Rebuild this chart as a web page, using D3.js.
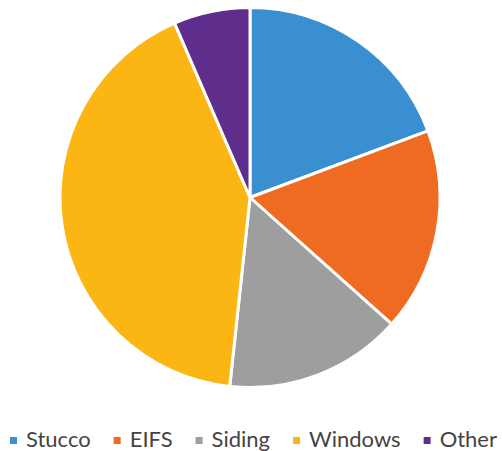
<!DOCTYPE html>
<html>
<head>
<meta charset="utf-8">
<script src="https://cdn.jsdelivr.net/npm/d3@7"></script>
<style>
  body { margin: 0; background: #fff; }
  text { font-family: Lato, "Open Sans", sans-serif; }
</style>
</head>
<body>
<svg width="502" height="451"></svg>
<script>
var categories = ["Stucco", "EIFS", "Siding", "Windows", "Other"];
var values = [19.3, 17.3, 15.1, 41.8, 6.5];
var colors = ["#3a8fd0", "#f06b22", "#9e9e9e", "#fbb614", "#5f2d8c"];

var svg = d3.select("svg"),
    width = +svg.attr("width"),
    height = +svg.attr("height");

var radius = 190,
    cx = 250,
    cy = 197.5;

var color = d3.scaleOrdinal().domain(categories).range(colors);

var data = categories.map(function(c, i) { return {name: c, value: values[i]}; });

var pie = d3.pie().sort(null).value(d => d.value);
var arc = d3.arc().innerRadius(0).outerRadius(radius);

var g = svg.append("g")
    .attr("transform", "translate(" + cx + "," + cy + ")");

g.selectAll("path").data(pie(data)).enter().append("path")
    .attr("d", arc)
    .attr("fill", d => color(d.data.name))
    .attr("stroke", "#fff")
    .attr("stroke-width", 3)
    .attr("stroke-linejoin", "round");

// legend: spread between left and right margin
var legend = svg.append("g").attr("class", "legend");
var item = legend.selectAll("g").data(data).enter().append("g");

item.append("rect")
    .attr("width", 7)
    .attr("height", 7)
    .attr("y", -10)
    .attr("fill", d => color(d.name));

item.append("text")
    .attr("x", 16)
    .attr("font-size", 22)
    .attr("fill", "#444")
    .text(d => d.name);

var left = 10, right = 497;
var widths = [];
item.each(function() { widths.push(16 + this.querySelector("text").getComputedTextLength()); });
var gap = (right - left - d3.sum(widths)) / (widths.length - 1);
var xpos = 0;
item.each(function(d, i) {
  d3.select(this).attr("transform", "translate(" + xpos + ",0)");
  xpos += widths[i] + gap;
});
legend.attr("transform", "translate(" + left + ",447)");
</script>
</body>
</html>
